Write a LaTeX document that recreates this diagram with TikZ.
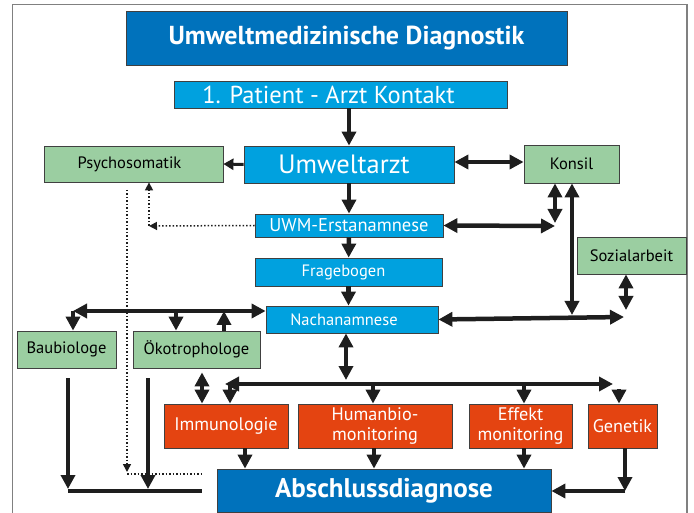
\documentclass[tikz,border=0pt]{standalone}
\usepackage{fontspec}
\setmainfont{PT Sans}
\usetikzlibrary{arrows.meta}

\definecolor{dunkelblau}{RGB}{0,114,188}
\definecolor{hellblau}{RGB}{0,161,223}
\definecolor{gruen}{RGB}{155,206,161}
\definecolor{rot}{RGB}{228,68,17}
\definecolor{pfeil}{RGB}{30,30,30}

\begin{document}
\begin{tikzpicture}[x=1pt, y=-1pt, >={Triangle[width=14pt,length=14pt]},
    feld/.style={draw=black!75, line width=0.8pt, inner sep=0pt, align=center},
    blaufeld/.style={feld, fill=hellblau, text=white},
    dunkelfeld/.style={feld, fill=dunkelblau, text=white, font=\bfseries\fontsize{27}{30}\selectfont},
    gruenfeld/.style={feld, fill=gruen, text=black, font=\fontsize{16.5}{19}\selectfont},
    rotfeld/.style={feld, fill=rot, text=white, minimum height=44pt, font=\fontsize{18.2}{19.5}\selectfont},
    pfeillinie/.style={draw=pfeil, line width=4.5pt},
    punktlinie/.style={draw=pfeil, line width=1.5pt, dotted, -{Triangle[width=8pt,length=8pt]}}]
    \useasboundingbox (0,0) rectangle (694,513);
    % Rahmen
    \draw[gray, line width=1.5pt] (12.5,4.5) rectangle (687,530);

    % Kopf
    \node[dunkelfeld, minimum width=441pt, minimum height=54pt, font=\bfseries\fontsize{26}{30}\selectfont] (titel) at (346.5,38) {Umweltmedizinische Diagnostik};
    \node[blaufeld, minimum width=333pt, minimum height=27pt, font=\fontsize{24.5}{26}\selectfont] (patient) at (340.5,94.5) {1. Patient - Arzt Kontakt\hspace*{24pt}};

    % mittlere Spalte
    \node[blaufeld, minimum width=210pt, minimum height=37pt, font=\fontsize{26.5}{30}\selectfont] (arzt) at (349,164.5) {Umweltarzt\hspace*{10pt}};
    \node[blaufeld, minimum width=188pt, minimum height=23pt, font=\fontsize{18.5}{20}\selectfont] (uwm) at (349,225.5) {UWM-Erstanamnese};
    \node[blaufeld, minimum width=187pt, minimum height=28pt, font=\fontsize{16.5}{18}\selectfont] (frage) at (348.5,272) {Fragebogen\hspace*{10pt}};
    \node[blaufeld, minimum width=172pt, minimum height=27pt, font=\fontsize{16.5}{18}\selectfont] (nach) at (352,319.5) {Nachanamnese\hspace*{16pt}};

    % gruene Felder
    \node[gruenfeld, minimum width=179pt, minimum height=36pt] (psycho) at (133.5,164) {Psychosomatik\hspace*{8pt}};
    \node[gruenfeld, minimum width=95pt, minimum height=38pt] (konsil) at (571.5,164) {Konsil};
    \node[gruenfeld, minimum width=109pt, minimum height=37pt] (sozial) at (631.5,255.5) {Sozialarbeit};
    \node[gruenfeld, minimum width=99pt, minimum height=37pt] (baub) at (66.5,349.5) {Baubiologe};
    \node[gruenfeld, minimum width=127pt, minimum height=37pt] (oeko) at (196.5,349.5) {Ökotrophologe};

    % Untersuchungen
    \node[rotfeld, minimum width=124pt] (immu) at (226,426) {Immunologie};
    \node[rotfeld, minimum width=154pt] (human) at (375,426) {Humanbio-\\monitoring};
    \node[rotfeld, minimum width=103pt] (effekt) at (520.5,426) {Effekt\\monitoring};
    \node[rotfeld, minimum width=69pt] (genetik) at (622.5,426) {Genetik};

    \node[dunkelfeld, minimum width=334pt, minimum height=43pt] (absch) at (384,490.5) {Abschlussdiagnose};

    % Hilfspunkte
    \coordinate (ecke) at (73,311);
    \coordinate (mitte) at (346,384);
    \coordinate (links) at (225,384);
    \coordinate (rechts) at (613,384);
    \coordinate (kon) at (555,226);
    \coordinate (kun) at (572,317);
    \coordinate (sun) at (626,317);
    \coordinate (gen) at (625,491);
    \coordinate (bau) at (68,491);
    \coordinate (oek) at (148,491);
    \coordinate (fuss) at (202,491);
    \coordinate (punkt) at (127,474);

    % Pfeile mittlere Spalte
    \draw[pfeillinie, ->] (patient.south -| arzt.north) -- (arzt.north);
    \draw[pfeillinie, ->] (arzt) -- (uwm);
    \draw[pfeillinie, ->] (uwm) -- (frage);
    \draw[pfeillinie, ->] (frage.south) -- (frage.south |- nach.north);
    \draw[draw=pfeil, line width=3pt, -{Triangle[width=11pt,length=10pt]}] (arzt.west) -- (psycho.east);
    \draw[pfeillinie, <->] (arzt.east |- konsil.west) ++(0,-2) -- (konsil.west |- 0,162);

    % Konsil und Sozialarbeit
    \draw[pfeillinie, <->] (uwm.east) -- (kon);
    \draw[pfeillinie, <->] (konsil.south -| kon) -- ([yshift=3pt]kon);
    \draw[pfeillinie, <->] (konsil.south -| kun) -- ([yshift=2pt]kun);
    \draw[pfeillinie, <->] (sozial.south -| sun) -- ([yshift=7pt]sun);
    \draw[pfeillinie, <->] (nach.east) -- ([xshift=-2pt]sun);

    % linke Seite
    \draw[pfeillinie, <->] (ecke) -- (nach.west |- ecke);
    \draw[pfeillinie, ->] (ecke) -- (baub.north -| ecke);
    \draw[pfeillinie, ->] (oeko.north -| 176,0) ++(0,-20) -- (oeko.north -| 176,0);
    \draw[pfeillinie, ->] (oeko.north -| 224,0) -- (224,311);
    \draw[pfeillinie, <->] (oeko.south -| 202,0) ++(0,4) -- (immu.north -| 202,0);

    % Verteilung auf die Untersuchungen
    \draw[pfeillinie, <->] (nach.south -| mitte) -- ([yshift=4pt]mitte);
    \draw[pfeillinie, <->] (links) -- (rechts);
    \draw[pfeillinie, ->] (links -| immu.north) ++(4,0) -- ([xshift=4pt]immu.north);
    \draw[pfeillinie, ->] (mitte -| 373,0) -- (immu.north -| 373,0);
    \draw[pfeillinie, ->] (mitte -| 524,0) -- (immu.north -| 524,0);
    \draw[pfeillinie, ->] (619,389) -- (genetik.north -| 619,0);

    % zur Abschlussdiagnose
    \draw[pfeillinie, ->] (immu.south -| 245,0) -- (absch.north -| 245,0);
    \draw[pfeillinie, ->] (human.south -| 374,0) -- (absch.north -| 374,0);
    \draw[pfeillinie, ->] (effekt.south -| 524,0) -- (absch.north -| 524,0);
    \draw[pfeillinie, ->] (genetik.south -| gen) -- (gen);
    \draw[pfeillinie, ->] (gen) -- (absch.east |- gen);
    \draw[pfeillinie, ->] (baub.south -| bau) ++(0,10) -- ([yshift=2pt]bau);
    \draw[pfeillinie, ->] (oeko.south -| oek) ++(0,10) -- ([yshift=2pt]oek);
    \draw[draw=pfeil, line width=4.5pt] (bau) -- (fuss);

    % gepunktete Wege
    \draw[punktlinie] (uwm.west) -- (149,226);
    \draw[punktlinie] (149,226) -- (psycho.south -| 149,0);
    \draw[punktlinie] (127,190) -- ([yshift=2pt]punkt);
    \draw[draw=pfeil, line width=1.5pt, dotted] (punkt) -- (punkt -| fuss);
\end{tikzpicture}
\end{document}
